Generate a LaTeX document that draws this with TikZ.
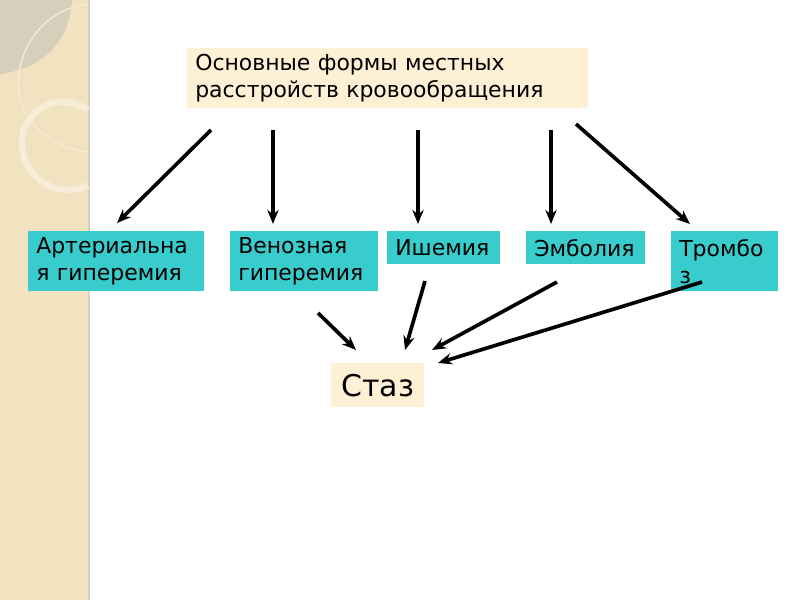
\documentclass[tikz,border=0pt]{standalone}
\usepackage{fontspec}
\setmainfont{DejaVu Sans}
\usetikzlibrary{arrows.meta}
\definecolor{stripbeige}{RGB}{242, 227, 192}
\definecolor{stripgray}{RGB}{214, 207, 188}
\definecolor{ringlight}{RGB}{246, 238, 216}
\definecolor{boxcream}{RGB}{253, 240, 212}
\definecolor{boxteal}{RGB}{56, 204, 204}

\begin{document}
\begin{tikzpicture}[x=0.025cm, y=-0.025cm,
    box/.style={anchor=north west, inner xsep=5.7pt, inner ysep=0pt, align=left,
        font=\fontsize{15.6}{19.2}\selectfont},
    formbox/.style={box, fill=boxteal},
    arr/.style={-{Stealth[length=10pt, width=8pt]}, line width=2.6pt}]

\useasboundingbox (0,0) rectangle (800,600);

% === Fondo: banda decorativa izquierda ===
\fill[white] (0,0) rectangle (800,600);
\fill[stripbeige] (0,0) rectangle (88,600);
\draw[stripgray, line width=1.5pt] (89,0) -- (89,600);
\fill[stripgray] (0,0) -- (72,0) .. controls (70,40) and (45,68) .. (0,74) -- cycle;
\draw[ringlight, line width=0.8pt] (88,4) .. controls (30,10) and (0,80) .. (30,120)
    .. controls (45,140) and (70,150) .. (88,152);
\draw[ringlight, line width=4.5pt] (88,110) .. controls (60,90) and (20,110) .. (22,145)
    .. controls (24,180) and (60,200) .. (88,185);

% === Nodos ===
\node[box, fill=boxcream, text width=9.625cm, minimum height=1.5cm] (title) at (187,48)
    {\rule{0pt}{6pt}Основные формы местных\\расстройств кровообращения};

\node[formbox, text width=4cm, minimum height=1.5cm] (arter) at (28,231)
    {Артериальна\\я гиперемия};
\node[formbox, text width=3.3cm, minimum height=1.5cm] (venoz) at (230,231)
    {Венозная\\гиперемия};
\node[formbox, text width=2.425cm, minimum height=0.825cm] (ishem) at (387,231)
    {Ишемия};
\node[formbox, text width=2.575cm, minimum height=0.825cm] (embol) at (526,231)
    {Эмболия};
\node[formbox, text width=2.275cm, minimum height=1.5cm] (tromb) at (671,231)
    {Тромбо\\з};

\node[box, fill=boxcream, inner xsep=6.4pt, minimum width=2.325cm, minimum height=1.1cm,
    font=\fontsize{21.3}{25}\selectfont] (staz) at (331,363) {Стаз};

% === Extremos de las flechas ===
\coordinate (t1) at (211,130);  \coordinate (h1) at (117,223);
\coordinate (t2) at (273,130);  \coordinate (h2) at (273,224);
\coordinate (t3) at (418,130);  \coordinate (h3) at (418,224);
\coordinate (t4) at (551,130);  \coordinate (h4) at (551,224);
\coordinate (t5) at (576,124);  \coordinate (h5) at (690,224);

\coordinate (s1) at (318,313);  \coordinate (e1) at (356,350);
\coordinate (s2) at (425,281);  \coordinate (e2) at (405,350);
\coordinate (s3) at (557,282);  \coordinate (e3) at (432,350);
\coordinate (s4) at (702,282);  \coordinate (e4) at (438,363);

% Flechas desde el titulo
\foreach \i in {1,...,5} {
    \draw[arr] (t\i) -- (h\i);
}

% Flechas hacia el estasis
\foreach \i in {1,...,4} {
    \draw[arr] (s\i) -- (e\i);
}

\end{tikzpicture}
\end{document}
